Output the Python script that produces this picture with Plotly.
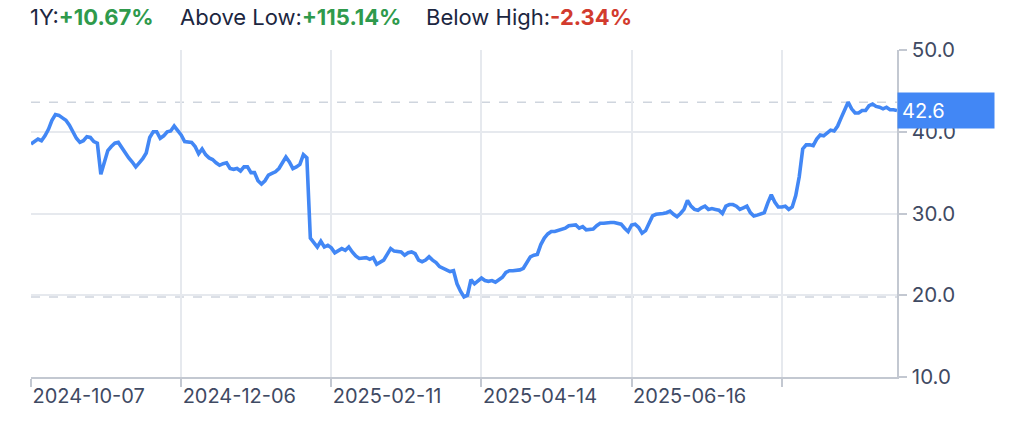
import plotly.graph_objects as go

# ---- data ----
prices = [
    38.5, 38.8, 39.1, 38.9, 39.5, 40.3, 41.4, 42.1, 42.0, 41.7,
    41.4, 40.8, 39.9, 39.2, 38.7, 38.9, 39.4, 39.3, 38.8, 38.6,
    34.8, 36.2, 37.7, 38.2, 38.6, 38.7, 38.0, 37.3, 36.8, 36.3,
    35.7, 36.2, 36.7, 37.4, 39.3, 40.0, 40.0, 39.2, 39.5, 40.0,
    40.1, 40.7, 40.1, 39.6, 38.8, 38.7, 38.7, 38.2, 37.3, 37.9,
    37.2, 36.8, 36.6, 36.2, 35.9, 36.1, 36.2, 35.5, 35.4, 35.5,
    35.2, 35.7, 35.7, 35.0, 35.0, 34.0, 33.6, 34.0, 34.7, 34.9,
    35.1, 35.5, 36.2, 36.9, 36.3, 35.5, 35.7, 36.0, 37.2, 36.8,
    27.0, 26.4, 25.9, 26.6, 25.9, 26.1, 25.8, 25.2, 25.4, 25.7,
    25.5, 25.9, 25.3, 24.8, 24.5, 24.5, 24.6, 24.4, 24.6, 23.8,
    24.0, 24.3, 25.0, 25.7, 25.4, 25.3, 25.3, 24.9, 25.2, 25.3,
    25.1, 24.3, 24.1, 24.3, 24.7, 24.3, 24.0, 23.5, 23.3, 23.1,
    22.9, 23.0, 21.4, 20.5, 19.8, 20.0, 21.9, 21.4, 21.8, 22.1,
    21.8, 21.7, 21.8, 21.6, 21.9, 22.2, 22.8, 23.0, 23.0, 23.0,
    23.1, 23.3, 24.0, 24.7, 24.9, 25.0, 26.2, 27.0, 27.5, 27.8,
    27.8, 27.9, 28.0, 28.2, 28.5, 28.5, 28.6, 28.2, 28.4, 28.0,
    28.1, 28.1, 28.5, 28.8, 28.8, 28.9, 28.9, 28.9, 28.8, 28.7,
    28.2, 27.8, 28.6, 28.7, 28.3, 27.6, 27.9, 28.8, 29.7, 29.9,
    29.9, 30.0, 30.1, 30.3, 29.9, 29.6, 30.0, 30.5, 31.6, 30.9,
    30.5, 30.4, 30.7, 30.9, 30.5, 30.6, 30.5, 30.4, 30.0, 30.9,
    31.1, 31.1, 30.9, 30.5, 30.7, 30.9, 30.1, 29.7, 29.8, 30.0,
    30.1, 31.3, 32.3, 31.4, 30.8, 30.8, 30.9, 30.5, 30.8, 32.2,
    34.5, 37.9, 38.4, 38.4, 38.3, 39.1, 39.6, 39.5, 39.8, 40.2,
    40.1, 40.7, 41.7, 42.6, 43.62, 42.8, 42.3, 42.3, 42.6, 42.6,
    43.2, 43.4, 43.1, 43.0, 42.8, 43.0, 42.7, 42.7, 42.6,
]
tick_index = [0, 43, 86, 129, 172, 215]
tick_labels = ["2024-10-07", "2024-12-06", "2025-02-11", "2025-04-14", "2025-06-16", ""]
y_ticks = [10, 20, 30, 40, 50]
header_labels = ["1Y:", "Above Low:", "Below High:"]
header_values = ["+10.67%", "+115.14%", "-2.34%"]
header_colors = ["#2f9a4c", "#2f9a4c", "#d23b2e"]

# ---- styling ----
LINE = "#4287f5"
GRID = "#e6e9ee"
AXIS = "#c3c8d1"
TXT = "#3f4a63"
FONT = "Inter"

# page body has an 8px margin, so the figure is drawn 8px in from the corner
W, H = 1004, 414
ml, mr, mt, mb = 23, 115, 42, 45
pw = W - ml - mr
ph = H - mt - mb

xs = list(range(len(prices)))
last = prices[-1]
hi = max(prices)
lo = min(prices)

fig = go.Figure()
fig.add_trace(go.Scatter(
    x=xs, y=prices, mode="lines",
    line=dict(color=LINE, width=3.6),
    hoverinfo="skip", showlegend=False,
))

fig.update_layout(
    width=W, height=H,
    margin=dict(l=ml, r=mr, t=mt, b=mb, autoexpand=False),
    paper_bgcolor="white", plot_bgcolor="white",
    font=dict(family=FONT, color=TXT, size=20),
    showlegend=False,
)

fig.update_xaxes(
    range=[0, len(prices) - 1],
    tickmode="array", tickvals=tick_index, ticktext=tick_labels,
    ticks="outside", ticklen=8, tickcolor=AXIS, tickwidth=1.5,
    ticklabelposition="outside right",
    showgrid=True, gridcolor=GRID, gridwidth=1.5,
    showline=True, linecolor=AXIS, linewidth=1.5,
    zeroline=False,
    tickfont=dict(size=20, color=TXT, family=FONT),
)
fig.update_yaxes(
    range=[10, 50], side="right",
    tickmode="array", tickvals=y_ticks,
    ticktext=[f"{v:.1f}" for v in y_ticks],
    ticks="outside", ticklen=8, tickcolor=AXIS, tickwidth=1.5,
    ticklabelstandoff=1,
    showgrid=True, gridcolor=GRID, gridwidth=1.5,
    showline=True, linecolor=AXIS, linewidth=1.5,
    zeroline=False,
    tickfont=dict(size=20.5, color=TXT, family=FONT),
)

# dashed high / low reference lines
for val in (hi, lo):
    fig.add_shape(type="line", xref="paper", yref="y", x0=0, x1=1, y0=val, y1=val,
                  line=dict(color="#cfd5de", width=1.5, dash="dash"), layer="below")

# last value tag
fig.add_annotation(
    xref="paper", yref="y", x=1.0, y=last, xanchor="left", yanchor="middle",
    text=f"{last:.1f}", showarrow=False,
    font=dict(color="white", size=20, family=FONT),
    bgcolor=LINE, align="left", width=88, height=27, borderpad=4,
)

# header
header_px = [21, 171, 417]
for px, lab, val, col in zip(header_px, header_labels, header_values, header_colors):
    fig.add_annotation(
        xref="paper", yref="paper",
        x=(px - ml) / pw, y=1 + (mt - 9) / ph,
        xanchor="left", yanchor="middle", showarrow=False, borderpad=0,
        text=f"<span style='color:#1c2640'>{lab}</span><span style='color:{col}'><b>{val}</b></span>",
        font=dict(size=22, family=FONT),
    )

fig.write_html("out.html")
